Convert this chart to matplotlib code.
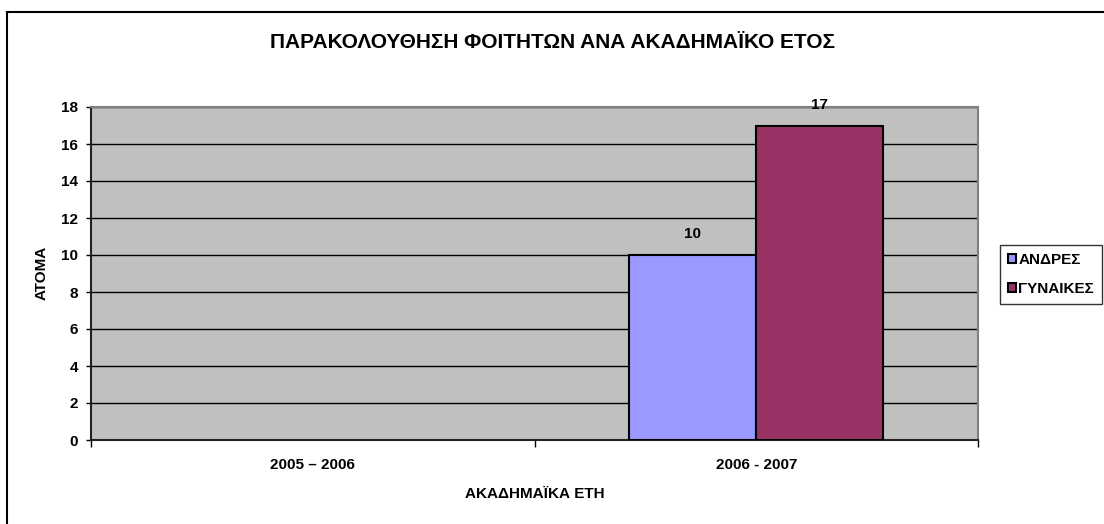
import numpy as np
import matplotlib.pyplot as plt
from matplotlib.lines import Line2D

plt.rcParams['font.family'] = ['Liberation Sans', 'DejaVu Sans']
plt.rcParams['font.weight'] = 'bold'

years = ['2005 – 2006', '2006 - 2007']
men = [np.nan, 10]
women = [np.nan, 17]
series = ['ΑΝΔΡΕΣ', 'ΓΥΝΑΙΚΕΣ']
yticks = list(range(0, 19, 2))

W, H = 1104, 524
fs = 11
fig = plt.figure(figsize=(W / 100, H / 100), dpi=100)

# outer chart border (only top and left visible)
fig.add_artist(Line2D([7 / W, 1], [1 - 12 / H, 1 - 12 / H], color='black', lw=1.5))
fig.add_artist(Line2D([7 / W, 7 / W], [0, 1 - 12 / H], color='black', lw=1.5))

ax = fig.add_axes([91 / W, 1 - 440 / H, (978 - 91) / W, (440 - 107) / H])
ax.set_facecolor('#C0C0C0')

x = np.arange(len(years))
bw = 0.286
b1 = ax.bar(x - bw / 2, men, bw, color='#9999FF', edgecolor='black', lw=1.5, label=series[0], zorder=3)
b2 = ax.bar(x + bw / 2, women, bw, color='#993366', edgecolor='black', lw=1.5, label=series[1], zorder=3)

for bars, vals in ((b1, men), (b2, women)):
    for rect, v in zip(bars, vals):
        if not np.isnan(v):
            ax.text(rect.get_x() + rect.get_width() / 2, v + 1.13, f'{v:g}',
                    ha='center', va='center', fontsize=fs, fontweight='bold')

ax.set_xlim(-0.5, 1.5)
ax.set_ylim(0, 18)
ax.set_yticks(yticks)
ax.yaxis.grid(True, color='black', lw=1)
ax.set_axisbelow(True)
ax.tick_params(axis='y', labelsize=fs, length=3.6, pad=5.5, direction='out', width=1)

ax.set_xticks(x)
ax.set_xticklabels(years)
ax.set_xticks([-0.5, 0.5, 1.5], minor=True)
ax.tick_params(axis='x', which='major', length=0, labelsize=fs, pad=13)
ax.tick_params(axis='x', which='minor', length=5, width=1, direction='out')

for s in ('top', 'right'):
    ax.spines[s].set_color('#808080')
    ax.spines[s].set_linewidth(1.5)
for s in ('left', 'bottom'):
    ax.spines[s].set_color('#222222')
    ax.spines[s].set_linewidth(1.5)

fig.text(535 / W, 1 - 494 / H, 'ΑΚΑΔΗΜΑΪΚΑ ΕΤΗ', ha='center', va='center',
         fontsize=fs, fontweight='bold')
fig.text(42 / W, 1 - 273 / H, 'ΑΤΟΜΑ', ha='center', va='center', rotation=90,
         fontsize=fs, fontweight='bold')

fig.text(552 / W, 1 - 42 / H, 'ΠΑΡΑΚΟΛΟΥΘΗΣΗ ΦΟΙΤΗΤΩΝ ΑΝΑ ΑΚΑΔΗΜΑΪΚΟ ΕΤΟΣ',
         ha='center', va='center', fontsize=15, fontweight='bold')

leg = fig.legend(handles=[b1, b2], labels=series, loc='upper left',
                 bbox_to_anchor=(1000 / W, 1 - 245 / H), fontsize=fs,
                 frameon=True, fancybox=False, edgecolor='black',
                 handlelength=0.55, handleheight=0.55, handletextpad=0.15,
                 borderpad=0.5, labelspacing=1.0, borderaxespad=0)
leg.get_frame().set_linewidth(1)

fig.savefig('out.png', dpi=100, facecolor='white')
